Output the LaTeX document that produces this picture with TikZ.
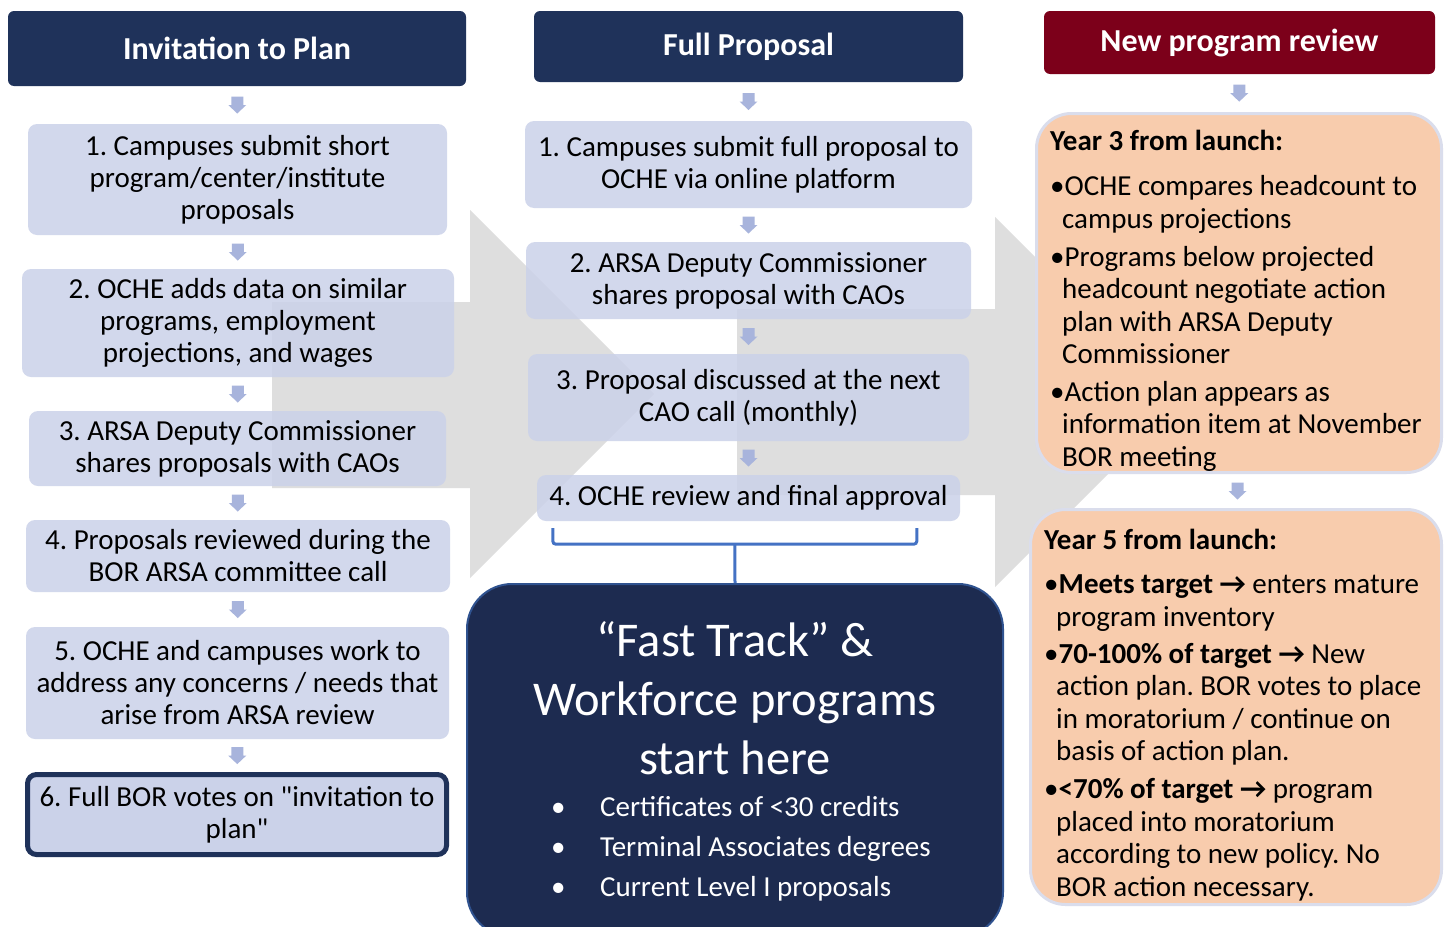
\documentclass[tikz,border=0pt]{standalone}
\usepackage{fontspec}
\setmainfont{Carlito}[Ligatures=TeXOff]
\usetikzlibrary{calc}
\frenchspacing
\definecolor{navy}{RGB}{31,50,90}
\definecolor{ftnavy}{RGB}{29,43,80}
\definecolor{ftline}{RGB}{47,82,143}
\definecolor{darkred}{RGB}{124,0,26}
\definecolor{lightbox}{RGB}{203,210,233}
\definecolor{grayarrow}{RGB}{222,222,222}
\definecolor{smallarr}{RGB}{168,180,220}
\definecolor{peach}{RGB}{248,204,173}
\definecolor{peachline}{RGB}{218,221,236}
\definecolor{brblue}{RGB}{68,114,196}
\newcommand\bodyfnt{\fontsize{29}{32}\selectfont}
\newcommand\hdrfnt{\fontsize{32}{36}\selectfont\bfseries}
\newcommand\rfnt{\fontsize{29}{32.5}\selectfont}
\newcommand\bigfnt{\fontsize{48.5}{59}\selectfont}
\newcommand\listfnt{\fontsize{29}{40}\selectfont}
\newcommand\arr{→}
\begin{document}
\frenchspacing
\begin{tikzpicture}[x=1pt,y=-1pt,
  lbox/.style={rounded corners=9pt, fill=lightbox, fill opacity=0.85, text opacity=1, text=black, align=center, font=\bodyfnt, inner sep=0pt},
  hdr/.style={rounded corners=6pt, text=white, align=center, font=\hdrfnt, inner sep=0pt},
  rbox/.style={rounded corners=35pt, fill=peach, draw=peachline, line width=3pt, inner sep=0pt},
  rtext/.style={align=left, font=\rfnt, inner sep=0pt, anchor=north west, text=black},
  gbig/.style={fill=grayarrow},
  brk/.style={draw=brblue, line width=3pt, rounded corners=3pt},
  downarr/.pic={\fill[smallarr] (-6,-8.5) -- (6,-8.5) -- (6,0) -- (9,0) -- (0,8.5) -- (-9,0) -- (-6,0) -- cycle;}
]
\useasboundingbox[fill=white] (0,0) rectangle (1445,926);

% big background arrows
\fill[gbig] (272,302) -- (470,302) -- (470,210) -- (654,394) -- (470,578) -- (470,488) -- (272,488) -- cycle;
\fill[gbig] (737,309) -- (995,309) -- (995,217) -- (1180,402) -- (995,587) -- (995,495) -- (737,495) -- cycle;

% headers
\node[hdr, fill=navy, minimum width=458pt, minimum height=75pt] (H1) at (237,48.5) {Invitation to Plan};
\node[hdr, fill=navy, minimum width=429pt, minimum height=71pt] (H2) at (748.5,46.5) {Full Proposal};
\node[hdr, fill=darkred, minimum width=391pt, minimum height=63pt] (H3) at (1239.5,42.5) {New program review};

% left column
\node[lbox, minimum width=419pt, minimum height=111pt] (L1) at (237.5,179.5) {1. Campuses submit short\\program/center/institute\\proposals};
\node[lbox, minimum width=432pt, minimum height=108pt] (L2) at (238,323) {2. OCHE adds data on similar\\programs, employment\\projections, and wages};
\node[lbox, minimum width=417pt, minimum height=75pt] (L3) at (237.5,448.5) {3. ARSA Deputy Commissioner\\shares proposals with CAOs};
\node[lbox, minimum width=424pt, minimum height=72pt] (L4) at (238,556) {4. Proposals reviewed during the\\BOR ARSA committee call};
\node[lbox, minimum width=423pt, minimum height=112pt] (L5) at (237.5,683) {5. OCHE and campuses work to\\address any concerns / needs that\\arise from ARSA review};
\node[lbox, fill opacity=1, draw=navy, line width=5pt, minimum width=419pt, minimum height=80pt] (L6) at (237,814.5) {6. Full BOR votes on "invitation to\\plan"};

% middle column
\node[lbox, minimum width=447pt, minimum height=87pt] (M1) at (748.5,164.5) {1. Campuses submit full proposal to\\OCHE via online platform};
\node[lbox, minimum width=445pt, minimum height=77pt] (M2) at (748.5,280.5) {2. ARSA Deputy Commissioner\\shares proposal with CAOs};
\node[lbox, minimum width=441pt, minimum height=87pt] (M3) at (748.5,397.5) {3. Proposal discussed at the next\\CAO call (monthly)};
\node[lbox, minimum width=423pt, minimum height=46pt] (M4) at (748.5,498) {4. OCHE review and final approval};

% fast track box
\node[draw=ftline, line width=2pt, fill=ftnavy, rounded corners=45pt, minimum width=536pt, minimum height=353pt, inner sep=0pt] (FT) at (735,760.5) {};
\node[text=white, align=center, font=\bigfnt, inner sep=0pt] (FTt) at (735,698) {“Fast Track” \&\\Workforce programs\\start here};
\node[text=white, align=left, font=\listfnt, inner sep=0pt, anchor=west] (FTl) at (551,849) {\makebox[49pt][l]{•}Certificates of <30 credits\\\makebox[49pt][l]{•}Terminal Associates degrees\\\makebox[49pt][l]{•}Current Level I proposals};

% bracket
\draw[brk] ($(M4.south west)+(16,7)$) -- ($(M4.south west)+(16,23)$) -- ($(M4.south west)+(380,23)$) -- ($(M4.south west)+(380,7)$);
\draw[brk] ($(M4.south west)+(198,23)$) -- (FT.north);

% right column
\node[rbox, minimum width=405pt, minimum height=359pt] (R1) at (1239,293) {};
\node[rtext] (R1t) at (1050,127.6) {\strut\textbf{Year 3 from launch:}\\[12.5pt]
•OCHE compares headcount to\\
\hspace*{12pt}campus projections\\[5.5pt]
•Programs below projected\\
\hspace*{12pt}headcount negotiate action\\
\hspace*{12pt}plan with ARSA Deputy\\
\hspace*{12pt}Commissioner\\[5pt]
•Action plan appears as\\
\hspace*{12pt}information item at November\\
\hspace*{12pt}BOR meeting};
\node[rbox, minimum width=411pt, minimum height=395pt] (R2) at (1236,707) {};
\node[rtext] (R2t) at (1044,527) {\strut\textbf{Year 5 from launch:}\\[11.5pt]
•\textbf{Meets target \arr} enters mature\\
\hspace*{12pt}program inventory\\[4.5pt]
•\textbf{70-100\% of target \arr} New\\
\hspace*{12pt}action plan. BOR votes to place\\
\hspace*{12pt}in moratorium / continue on\\
\hspace*{12pt}basis of action plan.\\[5.5pt]
•\textbf{<70\% of target \arr} program\\
\hspace*{12pt}placed into moratorium\\
\hspace*{12pt}according to new policy. No\\
\hspace*{12pt}BOR action necessary.};

% small down arrows
\pic at ($(H1.south)!0.5!(L1.north)$) {downarr};
\pic at ($(L1.south)!0.5!(L2.north)$) {downarr};
\pic at ($(L2.south)!0.5!(L3.north)$) {downarr};
\pic at ($(L3.south)!0.5!(L4.north)$) {downarr};
\pic at ($(L4.south)!0.5!(L5.north)$) {downarr};
\pic at ($(L5.south)!0.5!(L6.north)$) {downarr};
\pic at ($(H2.south)!0.5!(M1.north)$) {downarr};
\pic at ($(M1.south)!0.5!(M2.north)$) {downarr};
\pic at ($(M2.south)!0.5!(M3.north)$) {downarr};
\pic at ($(M3.south)!0.5!(M4.north)$) {downarr};
\pic at ($(H3.south)!0.5!(R1.north)$) {downarr};
\pic at ($(R1.south)!0.5!(R2.north)$) {downarr};
\end{tikzpicture}
\end{document}
